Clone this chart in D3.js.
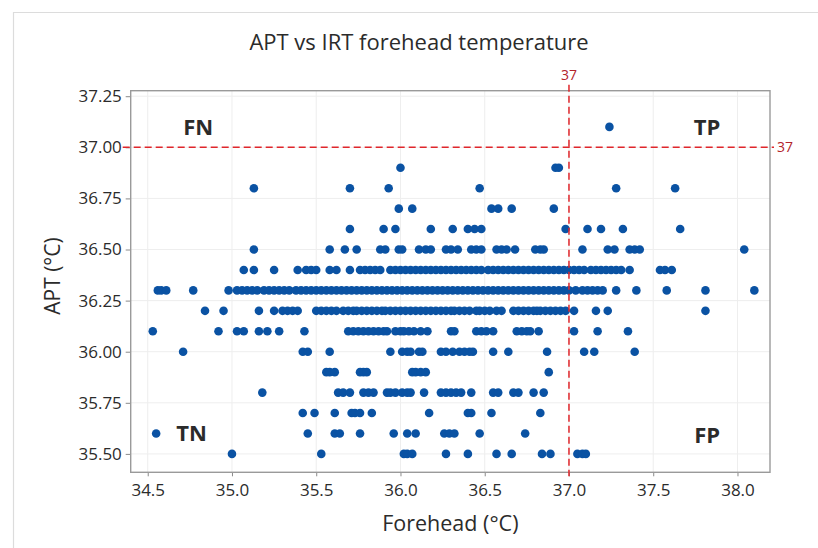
<!DOCTYPE html>
<html>
<head>
<meta charset="utf-8">
<script src="https://cdn.jsdelivr.net/npm/d3@7"></script>
<style>
  html, body { margin: 0; padding: 0; background: #fff; }
  svg { display: block; font-family: "Open Sans", "Noto Sans", sans-serif; }
</style>
</head>
<body>
<svg id="chart" width="818" height="548"></svg>
<script>
// APT reading levels (°C) and the forehead IRT readings observed at each level
const aptLevels = [35.5, 35.6, 35.7, 35.8, 35.9, 36.0, 36.1, 36.2, 36.3, 36.4, 36.5, 36.6, 36.7, 36.8, 36.9, 37.1];

const fh355 = [35.00, 35.53, 36.02, 36.04, 36.07, 36.27, 36.40, 36.57, 36.66, 36.84, 36.89, 37.05, 37.08, 37.10];
const fh356 = [34.55, 35.45, 35.61, 35.64, 35.76, 35.96, 36.04, 36.09, 36.26, 36.29, 36.32, 36.47, 36.74];
const fh357 = [35.42, 35.49, 35.61, 35.71, 35.73, 35.76, 35.83, 36.17, 36.40, 36.42, 36.54, 36.83];
const fh358 = [35.18, 35.63, 35.66, 35.70, 35.78, 35.81, 35.84, 35.92, 35.94, 35.97, 36.01, 36.04, 36.06,
  36.14, 36.24, 36.27, 36.30, 36.33, 36.36, 36.42, 36.55, 36.58, 36.67, 36.70, 36.79, 36.85];
const fh359 = [35.56, 35.58, 35.61, 35.76, 35.78, 35.80, 36.07, 36.09, 36.12, 36.15, 36.88];
const fh360 = [34.71, 35.42, 35.45, 35.58, 35.94, 36.01, 36.04, 36.06, 36.11, 36.13, 36.24, 36.27, 36.31,
  36.35, 36.38, 36.41, 36.43, 36.55, 36.64, 36.87, 37.09, 37.15, 37.39];
const fh361 = [34.53, 34.92, 35.03, 35.07, 35.16, 35.21, 35.28, 35.43, 35.69, 35.72, 35.75, 35.78, 35.81,
  35.84, 35.87, 35.90, 35.92, 35.97, 36.00, 36.02, 36.05, 36.08, 36.12, 36.16, 36.30, 36.32, 36.45, 36.48,
  36.51, 36.55, 36.69, 36.72, 36.75, 36.77, 36.82, 37.03, 37.17, 37.35];
const fh362 = [34.84, 34.95, 35.16, 35.25, 35.30, 35.33, 35.36, 35.39, 35.50, 35.53, 35.56, 35.59, 35.62,
  35.66, 35.69, 35.72, 35.74, 35.77, 35.80, 35.83, 35.86, 35.89, 35.91, 35.94, 35.97, 36.00, 36.03, 36.06,
  36.09, 36.12, 36.15, 36.18, 36.21, 36.24, 36.27, 36.30, 36.32, 36.35, 36.38, 36.41, 36.45, 36.47, 36.50,
  36.53, 36.57, 36.60, 36.67, 36.70, 36.73, 36.76, 36.79, 36.81, 36.83, 36.86, 36.89, 36.92, 36.95, 36.98,
  37.03, 37.16, 37.23, 37.81];
const fh363 = [34.56, 34.58, 34.61, 34.77, 34.98, 35.03, 35.06, 35.09, 35.12, 35.15, 35.19, 35.22, 35.25,
  35.28, 35.31, 35.34, 35.38, 35.41, 35.44, 35.47, 35.50, 35.53, 35.56, 35.59, 35.62, 35.65, 35.68, 35.71,
  35.74, 35.77, 35.80, 35.83, 35.86, 35.89, 35.92, 35.95, 35.98, 36.01, 36.04, 36.07, 36.10, 36.13, 36.16,
  36.19, 36.22, 36.25, 36.28, 36.31, 36.34, 36.37, 36.40, 36.43, 36.46, 36.49, 36.52, 36.55, 36.58, 36.61,
  36.64, 36.67, 36.70, 36.73, 36.76, 36.79, 36.82, 36.85, 36.88, 36.91, 36.94, 36.97, 37.00, 37.04, 37.08,
  37.11, 37.14, 37.17, 37.20, 37.28, 37.40, 37.58, 37.81, 38.10];
const fh364 = [35.07, 35.13, 35.25, 35.39, 35.44, 35.47, 35.50, 35.58, 35.62, 35.70, 35.76, 35.79, 35.82,
  35.85, 35.88, 35.94, 35.97, 36.00, 36.03, 36.06, 36.09, 36.12, 36.15, 36.18, 36.21, 36.24, 36.27, 36.30,
  36.33, 36.36, 36.39, 36.42, 36.45, 36.48, 36.52, 36.55, 36.58, 36.61, 36.64, 36.67, 36.70, 36.73, 36.76,
  36.79, 36.82, 36.85, 36.88, 36.91, 36.94, 36.97, 37.00, 37.03, 37.06, 37.09, 37.13, 37.16, 37.19, 37.22,
  37.25, 37.28, 37.31, 37.36, 37.54, 37.57, 37.61];
const fh365 = [35.13, 35.58, 35.67, 35.74, 35.88, 35.91, 35.99, 36.01, 36.11, 36.15, 36.18, 36.27, 36.30,
  36.34, 36.42, 36.45, 36.48, 36.57, 36.60, 36.63, 36.68, 36.80, 36.83, 36.85, 37.08, 37.23, 37.27, 37.36,
  37.39, 37.42, 38.04];
const fh366 = [35.70, 35.90, 35.97, 36.18, 36.31, 36.40, 36.44, 36.48, 36.98, 37.11, 37.19, 37.32, 37.66];
const fh367 = [35.99, 36.07, 36.54, 36.58, 36.66, 36.91];
const fh368 = [35.13, 35.70, 35.93, 36.47, 37.28, 37.63];
const fh369 = [36.00, 36.92, 36.94];
const fh371 = [37.24];

const foreheadByLevel = [fh355, fh356, fh357, fh358, fh359, fh360, fh361, fh362,
  fh363, fh364, fh365, fh366, fh367, fh368, fh369, fh371];

// Axis ticks, cut-off and quadrant annotations
const xTicks = [34.5, 35.0, 35.5, 36.0, 36.5, 37.0, 37.5, 38.0];
const yTicks = [35.50, 35.75, 36.00, 36.25, 36.50, 36.75, 37.00, 37.25];
const cutoff = 37;
const quadrantLabels = ["FN", "TP", "TN", "FP"];
const quadrantX = [34.80, 37.82, 34.76, 37.82];
const quadrantY = [37.10, 37.10, 35.60, 35.59];

// Flatten into (forehead, apt) points
const points = [];
aptLevels.forEach((apt, i) => {
  foreheadByLevel[i].forEach(fh => points.push({ fh, apt }));
});

const svg = d3.select("#chart");
const plotLeft = 130.7, plotRight = 770, plotTop = 90.7, plotBottom = 472.3;

const x = d3.scaleLinear().domain([34.399, 38.193]).range([plotLeft, plotRight]);
const y = d3.scaleLinear().domain([35.41, 37.277]).range([plotBottom, plotTop]);

const ink = "#2b2b2b";
const red = "#e0262b";
const darkRed = "#b3242b";

// Light outer figure border
svg.append("path")
  .attr("d", "M13.5,548 L13.5,12.5 L818,12.5")
  .attr("fill", "none").attr("stroke", "#dcdcdc").attr("stroke-width", 1.2);

// Gridlines
const grid = svg.append("g");
grid.selectAll("line.gx").data(xTicks).join("line")
  .attr("x1", d => x(d)).attr("x2", d => x(d))
  .attr("y1", plotTop).attr("y2", plotBottom)
  .attr("stroke", "#eeeeee").attr("stroke-width", 1);
grid.selectAll("line.gy").data(yTicks).join("line")
  .attr("x1", plotLeft).attr("x2", plotRight)
  .attr("y1", d => y(d)).attr("y2", d => y(d))
  .attr("stroke", "#eeeeee").attr("stroke-width", 1);

// Axes
const xAxis = svg.append("g").attr("transform", `translate(0,${plotBottom})`)
  .call(d3.axisBottom(x).tickValues(xTicks).tickFormat(d3.format(".1f")).tickSize(4).tickSizeOuter(0));
const yAxis = svg.append("g").attr("transform", `translate(${plotLeft},0)`)
  .call(d3.axisLeft(y).tickValues(yTicks).tickFormat(d3.format(".2f")).tickSize(5).tickSizeOuter(0));
[xAxis, yAxis].forEach(g => {
  g.select(".domain").remove();
  g.selectAll(".tick line").attr("stroke", "#8a8a8a");
  g.selectAll(".tick text").attr("fill", ink)
    .style("font-size", "17px").style("font-weight", "500")
    .style("font-family", "'Open Sans', sans-serif");
});
xAxis.selectAll(".tick text").attr("dy", "1.0em");
yAxis.selectAll(".tick text").attr("dx", "-0.05em");

// Scatter points
svg.append("g").selectAll("circle").data(points).join("circle")
  .attr("cx", d => x(d.fh)).attr("cy", d => y(d.apt))
  .attr("r", 4.3).attr("fill", "#0a52a3");

// Plot frame
svg.append("rect")
  .attr("x", plotLeft).attr("y", plotTop)
  .attr("width", plotRight - plotLeft).attr("height", plotBottom - plotTop)
  .attr("fill", "none").attr("stroke", "#9a9a9a").attr("stroke-width", 1.4);

// Cut-off reference lines at 37 °C
svg.append("line")
  .attr("x1", x(cutoff)).attr("x2", x(cutoff))
  .attr("y1", plotTop - 6).attr("y2", plotBottom + 4)
  .attr("stroke", red).attr("stroke-width", 1.5).attr("stroke-dasharray", "7,4");
svg.append("line")
  .attr("x1", plotLeft - 8).attr("x2", plotRight + 4)
  .attr("y1", y(cutoff)).attr("y2", y(cutoff))
  .attr("stroke", red).attr("stroke-width", 1.5).attr("stroke-dasharray", "7,4");
svg.append("text")
  .attr("x", x(cutoff)).attr("y", plotTop - 11)
  .attr("text-anchor", "middle")
  .attr("fill", darkRed).style("font-size", "14px").text(String(cutoff));
svg.append("text")
  .attr("x", plotRight + 7).attr("y", y(cutoff)).attr("dy", "0.35em")
  .attr("fill", darkRed).style("font-size", "14px").text(String(cutoff));

// Quadrant annotations
svg.append("g").selectAll("text").data(quadrantLabels).join("text")
  .attr("x", (d, i) => x(quadrantX[i])).attr("y", (d, i) => y(quadrantY[i]))
  .attr("dy", "0.36em").attr("text-anchor", "middle")
  .attr("fill", ink).style("font-size", "22px").style("font-weight", "bold")
  .text(d => d);

// Titles
svg.append("text")
  .attr("x", 419).attr("y", 42).attr("dy", "0.35em").attr("text-anchor", "middle")
  .attr("fill", ink).style("font-size", "22px").text("APT vs IRT forehead temperature");
svg.append("text")
  .attr("x", (plotLeft + plotRight) / 2).attr("y", 523).attr("dy", "0.35em").attr("text-anchor", "middle")
  .attr("fill", ink).style("font-size", "21.5px").text("Forehead (°C)");
svg.append("text")
  .attr("transform", `translate(53,276) rotate(-90)`)
  .attr("dy", "0.35em").attr("text-anchor", "middle")
  .attr("fill", ink).style("font-size", "21px").text("APT (°C)");
</script>
</body>
</html>
